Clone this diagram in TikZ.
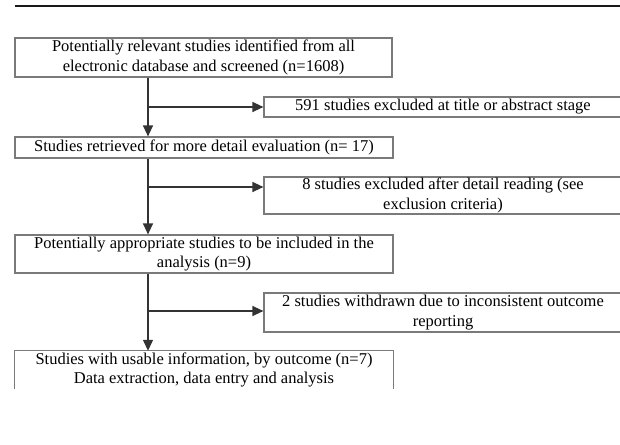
\documentclass[tikz,border=0pt]{standalone}
\usepackage{fontspec}
\setmainfont{Liberation Serif}
\usetikzlibrary{arrows.meta}
\definecolor{boxgray}{HTML}{7A7A7A}
\definecolor{linegray}{HTML}{333333}
\tikzset{
  flowbox/.style={rectangle, draw=boxgray, line width=1.2pt, inner sep=0pt, align=center,
    text=black, font=\fontsize{16.5}{19.5}\selectfont},
  openbox/.style={rectangle, inner sep=0pt, align=center, text=black,
    font=\fontsize{16.5}{19.5}\selectfont},
  arr/.style={draw=linegray, line width=1.3pt, -{Triangle[length=11pt,width=10pt]}},
}
\begin{document}
\begin{tikzpicture}[x=1pt,y=-1pt]
\useasboundingbox (0,0) rectangle (620,444);
\clip (0,0) rectangle (620,444);
\fill[white] (0,0) rectangle (620,444);
\coordinate (r0) at (15,6.5);
\coordinate (r1) at (622,6.5);
\draw[line width=2pt, black!90] (r0) -- (r1);

\node[flowbox, minimum width=377pt, minimum height=39pt] (b1) at (203.5,57.5)
  {Potentially relevant studies identified from all\\electronic database and screened (n=1608)};
\node[flowbox, minimum width=358pt, minimum height=20pt] (e1) at (443,107)
  {591 studies excluded at title or abstract stage};
\node[flowbox, minimum width=378pt, minimum height=21pt] (b2) at (204,147.5)
  {Studies retrieved for more detail evaluation (n= 17)};
\node[flowbox, minimum width=358pt, minimum height=37pt] (e2) at (443,195.5)
  {8 studies excluded after detail reading (see\\exclusion criteria)};
\node[flowbox, minimum width=378pt, minimum height=38pt] (b3) at (204,254)
  {Potentially appropriate studies to be included in the\\analysis (n=9)};
\node[flowbox, minimum width=358pt, minimum height=39pt] (e3) at (443,312.5)
  {2 studies withdrawn due to inconsistent outcome\\reporting};
\node[openbox, minimum width=378pt, minimum height=38pt] (b4) at (204,370)
  {Studies with usable information, by outcome (n=7)\\Data extraction, data entry and analysis};
\draw[draw=boxgray, line width=1.2pt] (b4.south west) -- (b4.north west) -- (b4.north east) -- (b4.south east);

\coordinate (j1) at (148,107);
\coordinate (j2) at (148,187);
\coordinate (j3) at (148,311);
\draw[arr] (b1.south -| j1) -- (j1 |- b2.north);
\draw[arr] (j1) -- (e1.west |- j1);
\draw[arr] (b2.south -| j2) -- (j2 |- b3.north);
\draw[arr] (j2) -- (e2.west |- j2);
\draw[arr] (b3.south -| j3) -- (j3 |- b4.north);
\draw[arr] (j3) -- (e3.west |- j3);
\end{tikzpicture}
\end{document}
